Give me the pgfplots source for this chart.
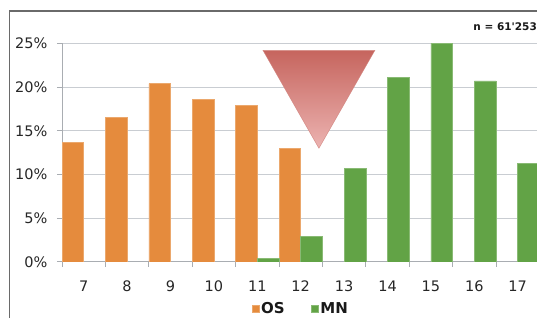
\documentclass[border=0pt]{standalone}
\usepackage{pgfplots}
\pgfplotsset{compat=1.18}
\usepackage{fontspec}
\setmainfont{DejaVu Sans}
\definecolor{osc}{HTML}{E58B3D}
\definecolor{mnc}{HTML}{62A346}
\definecolor{gridc}{HTML}{C9CDD2}
\definecolor{axc}{HTML}{A9ADB2}
\definecolor{tritop}{HTML}{C6655E}
\definecolor{tribot}{HTML}{ECB3B1}
\definecolor{framec}{HTML}{6A6A6A}
\begin{document}
\begin{tikzpicture}[x=1pt,y=1pt]
\useasboundingbox (0pt,0pt) rectangle (537pt,318pt);
\clip (0pt,0pt) rectangle (537pt,318pt);
\draw[framec, line width=1.5pt] (9.5pt,0pt) -- (9.5pt,307pt) -- (537pt,307pt);
\begin{axis}[
  at={(62pt,56pt)}, anchor=south west,
  scale only axis, width=477.4pt, height=218.7pt,
  xmin=6.5, xmax=17.5, ymin=0, ymax=25,
  ybar=0pt, bar width=21.7pt,
  axis x line*=bottom, axis y line*=left,
  axis line style={axc, line width=1pt},
  xtick={7,...,17},
  minor xtick={6.5,7.5,...,17.5},
  ytick={0,5,...,25},
  tick align=outside,
  major tick length=5pt, minor tick length=5pt,
  major x tick style={draw=none},
  tick style={axc, line width=1pt},
  ymajorgrids, grid style={gridc, line width=1pt},
  /pgf/number format/assume math mode=true,
  yticklabel={\pgfmathprintnumber{\tick}\%},
  tick label style={font=\fontsize{14.5}{16}\selectfont, text=black!85},
  xticklabel style={yshift=-10pt},
  yticklabel style={xshift=-6pt},
  legend columns=2,
  legend style={draw=none, fill=none, at={(0.5,-0.215)}, anchor=center,
    font=\fontsize{15}{17}\bfseries\selectfont, text=black!90,
    /tikz/every even column/.append style={column sep=24pt}},
  legend image code/.code={\fill[#1] (2pt,-3.5pt) rectangle (9pt,3.5pt);},
]
\addplot[fill=osc, draw=osc!75!white, line width=0.6pt] coordinates {(7,13.7) (8,16.5) (9,20.4) (10,18.6) (11,17.9) (12,13.0)};
\addplot[fill=mnc, draw=mnc!75!white, line width=0.6pt] coordinates {(11,0.4) (12,2.9) (13,10.7) (14,21.1) (15,25.0) (16,20.7) (17,11.3)};
\legend{OS, MN}
\shade[top color=tritop, bottom color=tribot, draw=tritop!80!white, line width=0.4pt]
  (axis cs:11.13,24.2) -- (axis cs:13.71,24.2) -- (axis cs:12.42,13.0) -- cycle;
\end{axis}
\node[anchor=east, font=\fontsize{10.5}{12}\bfseries\selectfont, text=black!90, inner sep=0pt] at (537pt,291pt) {n = 61\textquotesingle 253};
\end{tikzpicture}
\end{document}
